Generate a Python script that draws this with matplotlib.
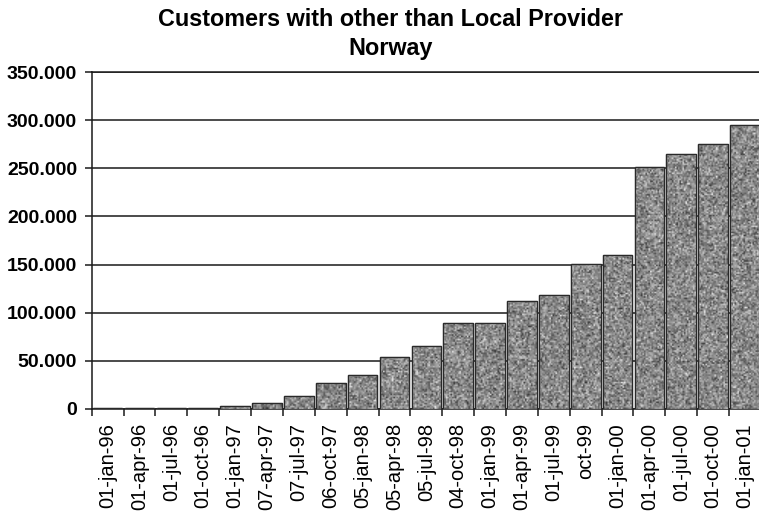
import numpy as np
import matplotlib
matplotlib.use("Agg")
import matplotlib.pyplot as plt
from matplotlib.ticker import FuncFormatter, FixedLocator

# Quarterly counts of customers using a provider other than the local one (Norway)
dates = ["01-jan-96", "01-apr-96", "01-jul-96", "01-oct-96", "01-jan-97",
         "07-apr-97", "07-jul-97", "06-oct-97", "05-jan-98", "05-apr-98",
         "05-jul-98", "04-oct-98", "01-jan-99", "01-apr-99", "01-jul-99",
         "oct-99", "01-jan-00", "01-apr-00", "01-jul-00", "01-oct-00",
         "01-jan-01"]
customers = [800, 900, 1000, 1000, 3000,
             5900, 13500, 27300, 35300, 53500,
             65300, 89500, 89500, 112300, 118300,
             150400, 159700, 251300, 265200, 274900,
             294600]
y_ticks = [0, 50000, 100000, 150000, 200000, 250000, 300000, 350000]

plt.rcParams["font.family"] = ["Liberation Sans", "DejaVu Sans"]

fig = plt.figure(figsize=(7.59, 5.17), dpi=100)
ax = fig.add_axes([0.1208, 0.2089, 0.8818, 0.6518])

x = np.arange(len(dates))
bar_w = 0.93
bars = ax.bar(x, customers, width=bar_w, color="#8a8a8a",
              edgecolor="#2a2a2a", linewidth=0.9, zorder=3)

# speckled grey fill inside each bar
rng = np.random.default_rng(7)
for rect in bars:
    h = rect.get_height()
    x0 = rect.get_x()
    rows = max(2, int(h / 350000 * 337 / 1.5))
    tex = rng.normal(0.54, 0.14, size=(rows, 20))
    tex = np.clip(tex, 0.22, 0.95)
    im = ax.imshow(tex, cmap="gray", vmin=0, vmax=1, aspect="auto",
                   interpolation="bilinear",
                   extent=(x0, x0 + bar_w, 0, h), zorder=3.5)
    im.set_clip_path(rect)
    # redraw outline on top of the texture
    ax.add_patch(plt.Rectangle((x0, 0), bar_w, h, fill=False,
                               edgecolor="#2a2a2a", linewidth=0.9, zorder=4))

ax.set_xlim(-0.5, len(dates) - 0.5)
ax.set_ylim(0, 350000)

ax.yaxis.set_major_locator(FixedLocator(y_ticks))
ax.yaxis.set_major_formatter(
    FuncFormatter(lambda v, p: f"{v:,.0f}".replace(",", ".")))
ax.grid(axis="y", color="#1a1a1a", linewidth=1.1, zorder=1)

ax.set_xticks(x)
ax.set_xticklabels(dates, rotation=90, fontsize=14.5)
ax.set_xticks(np.arange(len(dates) + 1) - 0.5, minor=True)
ax.tick_params(axis="x", which="major", length=0, pad=10)
ax.tick_params(axis="x", which="minor", length=5, width=1.1,
               color="#1a1a1a", direction="out")
ax.tick_params(axis="y", length=5, width=1.1, color="#1a1a1a",
               direction="out", pad=5.5)
for lab in ax.get_yticklabels():
    lab.set_fontsize(14)
    lab.set_fontweight("bold")

ax.spines["right"].set_visible(False)
for side in ("left", "bottom", "top"):
    ax.spines[side].set_color("#1a1a1a")
    ax.spines[side].set_linewidth(1.1)

fig.text(0.514, 1 - 26 / 517, "Customers with other than Local Provider",
         ha="center", va="baseline", fontsize=16.8, fontweight="bold")
fig.text(0.514, 1 - 55 / 517, "Norway",
         ha="center", va="baseline", fontsize=16.8, fontweight="bold")

fig.savefig("out.png", dpi=100, facecolor="white")
